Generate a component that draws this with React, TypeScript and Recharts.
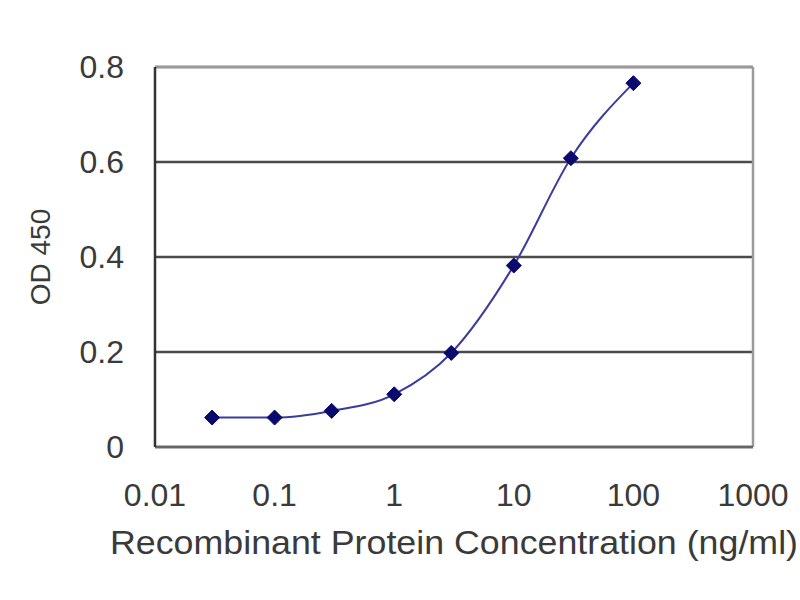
import React from 'react';
import { LineChart, Line, XAxis, YAxis, CartesianGrid, ReferenceLine } from 'recharts';

const concentrations = [0.03, 0.1, 0.3, 1, 3, 10, 30, 100];
const od450 = [0.062, 0.062, 0.076, 0.111, 0.198, 0.382, 0.608, 0.766];
const xTicks = [0.01, 0.1, 1, 10, 100, 1000];
const yTicks = [0, 0.2, 0.4, 0.6, 0.8];
const xTitle = 'Recombinant Protein Concentration (ng/ml)';
const yTitle = 'OD 450';

const data = concentrations.map((c, i) => ({ x: c, y: od450[i] }));

const FONT = '"Liberation Sans", Arial, sans-serif';
const TEXT = '#3a3a3a';

const Diamond = (props: any) => {
  const { cx, cy } = props;
  if (cx == null || cy == null) return null;
  const r = 7.5;
  return (
    <polygon
      points={`${cx},${cy - r} ${cx + r},${cy} ${cx},${cy + r} ${cx - r},${cy}`}
      fill="#0a0a6e"
      stroke="#0a0a6e"
      strokeWidth={1}
    />
  );
};

const XTitle = (props: any) => {
  const vb = props.viewBox || {};
  const cx = vb.x + vb.width / 2;
  return (
    <text
      x={cx}
      y={554}
      textAnchor="middle"
      fontFamily={FONT}
      fontSize={33}
      fill={TEXT}
      textLength={688}
      lengthAdjust="spacingAndGlyphs"
    >
      {xTitle}
    </text>
  );
};

const YTitle = (props: any) => {
  const vb = props.viewBox || {};
  const cy = vb.y + vb.height / 2;
  return (
    <text
      x={0}
      y={0}
      transform={`translate(50, ${cy}) rotate(-90)`}
      textAnchor="middle"
      fontFamily={FONT}
      fontSize={28}
      fill={TEXT}
    >
      {yTitle}
    </text>
  );
};

export default function App() {
  return (
    <div style={{ position: 'absolute', left: 0, top: 0, width: 800, height: 600, background: '#fff' }}>
      <LineChart width={800} height={600} data={data} margin={{ top: 67, right: 47, bottom: 0, left: 0 }}>
        <CartesianGrid horizontal vertical={false} stroke="#4a4a4a" strokeWidth={2.5} />
        <XAxis
          dataKey="x"
          type="number"
          scale="log"
          domain={[0.01, 1000]}
          ticks={xTicks}
          allowDataOverflow
          height={153}
          tickSize={0}
          tickMargin={36}
          tickLine={false}
          axisLine={{ stroke: '#666', strokeWidth: 2.5 }}
          tick={{ fontFamily: FONT, fontSize: 32, fill: TEXT }}
          label={<XTitle />}
        />
        <YAxis
          type="number"
          domain={[0, 0.8]}
          ticks={yTicks}
          width={155}
          tickSize={0}
          tickMargin={31}
          tickLine={false}
          axisLine={{ stroke: '#333', strokeWidth: 2.5 }}
          tick={{ fontFamily: FONT, fontSize: 32, fill: TEXT }}
          label={<YTitle />}
        />
        <ReferenceLine y={0.8} stroke="#9a9a9a" strokeWidth={2.5} />
        <ReferenceLine x={1000} stroke="#9a9a9a" strokeWidth={2.5} />
        <Line
          dataKey="y"
          type="monotone"
          stroke="#3c3c9c"
          strokeWidth={2}
          dot={<Diamond />}
          isAnimationActive={false}
        />
      </LineChart>
    </div>
  );
}
